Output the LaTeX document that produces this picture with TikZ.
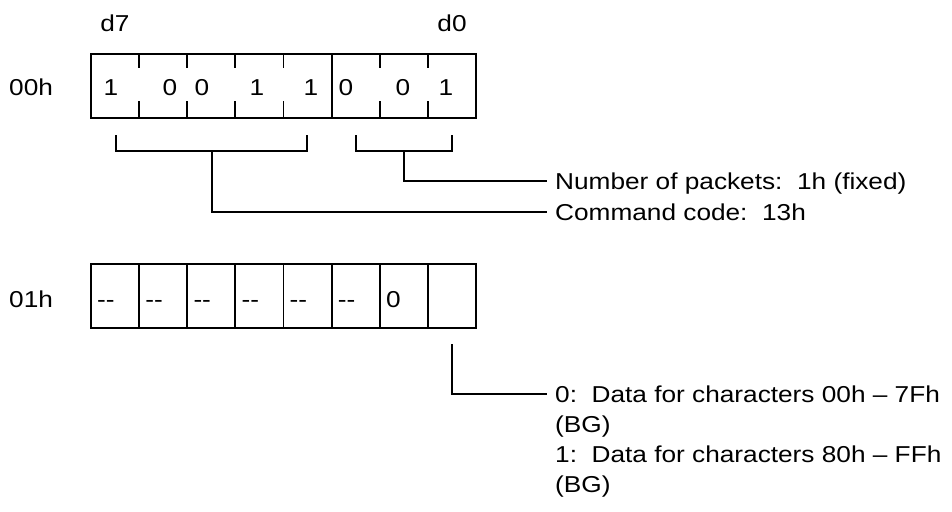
\documentclass[tikz,border=0pt]{standalone}
\usepackage{fontspec}
\newfontfamily\figfont{Liberation Sans}[FakeStretch=1.14]
\usepackage{tikz}
\usetikzlibrary{positioning}
\tikzset{
  txt/.style  = {font=\figfont\fontsize{23}{30}\selectfont, inner sep=0pt, text height=16pt, text depth=0pt},
  bit/.style  = {txt, anchor=base},
  note/.style = {txt, anchor=base west, inner xsep=8pt},
  reg/.style  = {draw, line width=1.8pt, minimum width=385pt, minimum height=64pt, inner sep=0pt},
  cell/.style = {draw, line width=1.8pt, minimum width=48.125pt, minimum height=64pt, inner sep=0pt},
  ln/.style   = {line width=1.8pt}
}

\begin{document}
\begin{tikzpicture}[x=1pt, y=-1pt]
        \useasboundingbox (0,0) rectangle (952,511);
        % bit order
        \node[bit] (d7) at (115,32) {d7};
        \node[bit] (d0) at (452,32) {d0};
        % register 00h
        \node[txt, anchor=base west] (a00) at (9,95) {00h};
        \node[reg] (r00) at (283.5,86) {};
        \draw[ln] (139.125,54) -- (139.125,68) (139.125,101) -- (139.125,118);
        \draw[ln] (187.25,54)  -- (187.25,68)  (187.25,101)  -- (187.25,118);
        \draw[ln] (235.375,54) -- (235.375,68) (235.375,101) -- (235.375,118);
        \draw[ln] (283.5,54)   -- (283.5,68)   (283.5,101)   -- (283.5,118);
        \draw[ln] (331.625,54) -- (331.625,118);
        \draw[ln] (379.75,54)  -- (379.75,68)  (379.75,101)  -- (379.75,118);
        \draw[ln] (427.875,54) -- (427.875,68) (427.875,101) -- (427.875,118);
        \node[bit] (b7) at (111,95) {1};
        \node[bit] (b6) at (170,95) {0};
        \node[bit] (b5) at (202,95) {0};
        \node[bit] (b4) at (257,95) {1};
        \node[bit] (b3) at (311,95) {1};
        \node[bit] (b2) at (346,95) {0};
        \node[bit] (b1) at (403,95) {0};
        \node[bit] (b0) at (446,95) {1};
        % brackets
        \draw[ln] (116,135) -- (116,151) -- (307,151) -- (307,135);
        \draw[ln] (356,135) -- (356,151) -- (452,151) -- (452,135);
        \coordinate (cmdstem) at (212,151);
        \coordinate (npkstem) at (404,151);
        \node[note] (npk) at (547,189) {Number of packets:\ \ 1h (fixed)};
        \node[note] (cmd) at (547,220) {Command code:\ \ 13h};
        \draw[ln] (npkstem) |- (npk.west);
        \draw[ln] (cmdstem) |- (cmd.west);
        % register 01h
        \node[txt, anchor=base west] (a01) at (9,307) {01h};
        \node[cell] (c7) at (115.06,296) {};
        \node[cell] (c6) at (163.19,296) {};
        \node[cell] (c5) at (211.31,296) {};
        \node[cell] (c4) at (259.44,296) {};
        \node[cell] (c3) at (307.56,296) {};
        \node[cell] (c2) at (355.69,296) {};
        \node[cell] (c1) at (403.81,296) {};
        \node[cell] (c0) at (451.94,296) {};
        \node[txt, anchor=base west] (v7) at (97,307)    {-{}-};
        \node[txt, anchor=base west] (v6) at (145.1,307) {-{}-};
        \node[txt, anchor=base west] (v5) at (193.3,307) {-{}-};
        \node[txt, anchor=base west] (v4) at (241.4,307) {-{}-};
        \node[txt, anchor=base west] (v3) at (289.5,307) {-{}-};
        \node[txt, anchor=base west] (v2) at (337.6,307) {-{}-};
        \node[txt, anchor=base west] (v1) at (385.8,307) {0};
        \coordinate (bnkstem) at (451.94,344);
        \node[note] (bk0) at (547,402) {0:\ \ Data for characters 00h – 7Fh};
        \node[note] (bg0) at (547,432) {(BG)};
        \node[note] (bk1) at (547,462) {1:\ \ Data for characters 80h – FFh};
        \node[note] (bg1) at (547,492) {(BG)};
        \draw[ln] (bnkstem) |- (bk0.west);
      \end{tikzpicture}
\end{document}
